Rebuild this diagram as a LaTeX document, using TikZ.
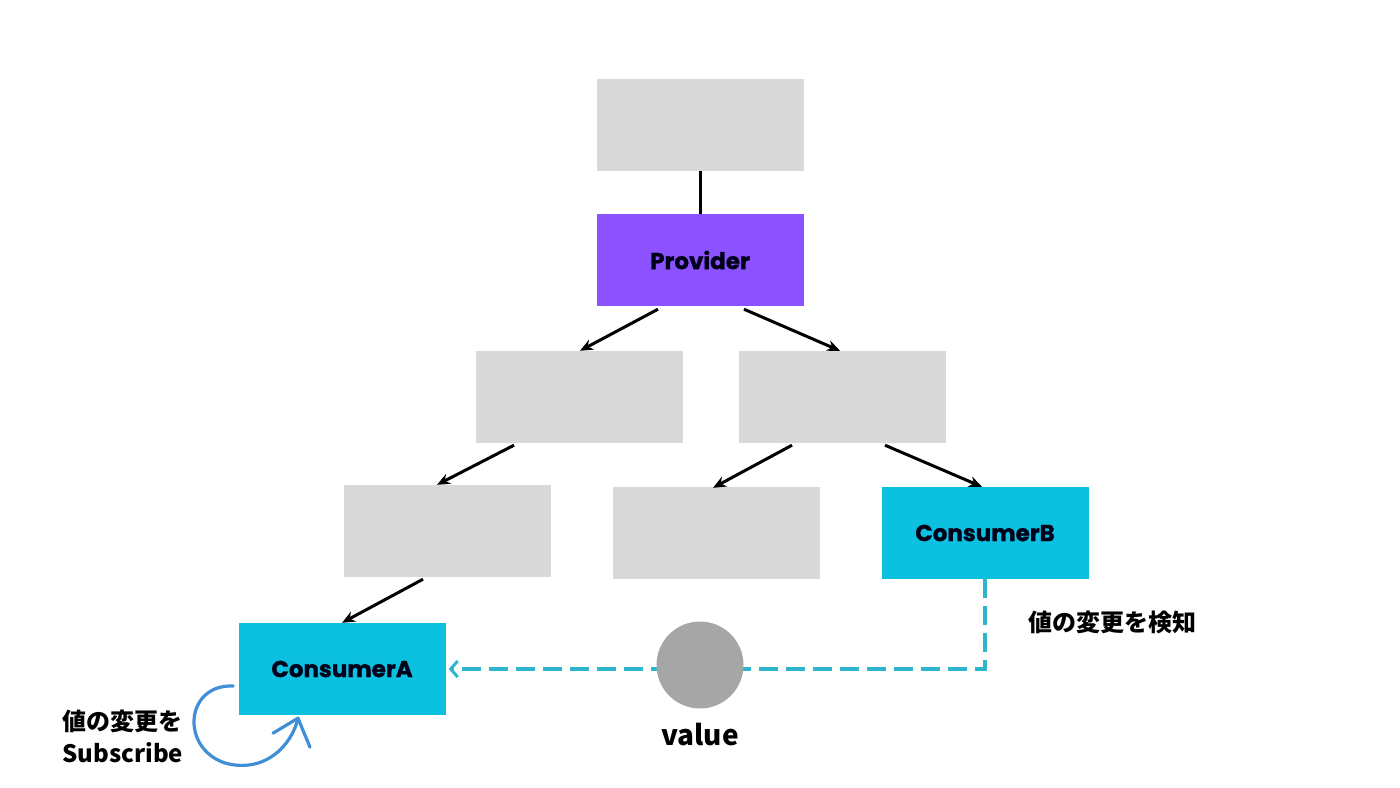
\documentclass[tikz,border=0pt]{standalone}
\usepackage{fontspec}
\usepackage{xcolor}
\usetikzlibrary{arrows.meta,calc}
\newfontfamily\boxfont{Poppins}[BoldFeatures={FakeBold=1.2}]
\newfontfamily\jpfont{Noto Sans CJK JP}
\definecolor{boxgray}{HTML}{D9D9D9}
\definecolor{provpurple}{HTML}{8C52FF}
\definecolor{conscyan}{HTML}{0CC0DF}
\definecolor{dashcyan}{HTML}{2FB4CE}
\definecolor{valgray}{HTML}{A6A6A6}
\definecolor{loopblue}{HTML}{3F8ED6}
\tikzset{>=stealth}
\tikzset{
  treebox/.style={rectangle,fill=boxgray,minimum width=207pt,minimum height=92pt,inner sep=0pt},
  provbox/.style={treebox,fill=provpurple},
  consbox/.style={treebox,fill=conscyan},
  boxlabel/.style={font=\boxfont\bfseries\fontsize{23}{27}\selectfont,text=black!90!blue},
  jplabel/.style={font=\jpfont\bfseries\fontsize{24}{32}\selectfont,align=left},
  tree arrow/.style={-{Stealth[length=13pt,width=11pt]},line width=3pt},
  notify line/.style={draw=dashcyan,line width=3.2pt,dash pattern=on 19pt off 8pt,
    -{Straight Barb[length=7pt,width=16pt,line width=3pt]}},
  loop line/.style={draw=loopblue,line width=3.2pt,line cap=round,line join=round}
}

\begin{document}
\begin{tikzpicture}[x=1pt,y=-1pt]
    \useasboundingbox (0,0) rectangle (1400,787);
    \node[treebox] (root) at (700,125) {};
    \node[provbox,boxlabel] (prov) at (700,260) {Provider};
    \node[treebox] (midL) at (579,397) {};
    \node[treebox] (midR) at (842,397) {};
    \node[treebox] (lowL) at (447,531) {};
    \node[treebox] (lowM) at (716,533) {};
    \node[consbox,boxlabel] (consB) at (985,533) {ConsumerB};
    \node[consbox,boxlabel] (consA) at (342,669) {ConsumerA};

    \draw[line width=3pt] (root.south) -- (prov.north);
    \draw[tree arrow] ($(prov.south)+(-42,3)$) -- ($(midL.north)+(1,0)$);
    \draw[tree arrow] ($(prov.south)+(44,3)$) -- ($(midR.north)+(-2,0)$);
    \draw[tree arrow] ($(midL.south)+(-65,2)$) -- ($(lowL.north)+(-10,0)$);
    \draw[tree arrow] ($(midR.south)+(-50,2)$) -- ($(lowM.north)+(-3,1)$);
    \draw[tree arrow] ($(midR.south)+(43,2)$) -- ($(consB.north)+(-3,0)$);
    \draw[tree arrow] ($(lowL.south)+(-24,2)$) -- (consA.north);

    % value passed from B to A
    \draw[notify line] (consB.south) |- ($(consA.east)+(3,0)$);
    \node[circle,fill=valgray,minimum size=87pt,inner sep=0pt] (val) at (700,665) {};
    \node[font=\jpfont\bfseries\fontsize{28}{32}\selectfont] (valtext) at (700,735) {value};
    \node[jplabel,anchor=west] (detect) at (1025,622) {値の変更を検知};

    % subscribe loop
    \node[jplabel,anchor=west] (sub) at (59,736) {値の変更を\\Subscribe};
    \coordinate (loopS) at ($(consA.west)+(-5,17)$);
    \coordinate (loopE) at ($(consA.south)+(-44,3)$);
    \draw[loop line] (loopS) .. controls (185,684) and (180,748) .. (225,763)
        .. controls (265,774) and (292,745) .. (loopE);
    \draw[loop line] ($(loopE)+(-25,15)$) -- (loopE) -- ($(loopE)+(12,29)$);
\end{tikzpicture}
\end{document}
